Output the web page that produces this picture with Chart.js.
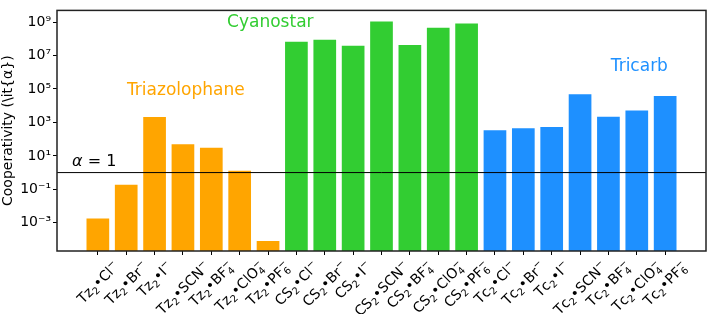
<!DOCTYPE html>
<html lang="en">
<head>
<meta charset="UTF-8">
<title>Cooperativity</title>
<script src="https://cdn.jsdelivr.net/npm/chart.js@4.4.0/dist/chart.umd.min.js"></script>
<style>
    html, body { margin: 0; padding: 0; background: #fff; }
    #wrap { width: 709px; height: 314px; }
</style>
</head>
<body>
<div id="wrap"><canvas id="coop"></canvas></div>

<script>
    // ---- data ----
    const tzLabels = ['Tz₂•Cl⁻', 'Tz₂•Br⁻', 'Tz₂•I⁻', 'Tz₂•SCN⁻', 'Tz₂•BF₄⁻', 'Tz₂•ClO₄⁻', 'Tz₂•PF₆⁻'];
    const csLabels = ['CS₂•Cl⁻', 'CS₂•Br⁻', 'CS₂•I⁻', 'CS₂•SCN⁻', 'CS₂•BF₄⁻', 'CS₂•ClO₄⁻', 'CS₂•PF₆⁻'];
    const tcLabels = ['Tc₂•Cl⁻', 'Tc₂•Br⁻', 'Tc₂•I⁻', 'Tc₂•SCN⁻', 'Tc₂•BF₄⁻', 'Tc₂•ClO₄⁻', 'Tc₂•PF₆⁻'];

    const tzValues = [1.8e-3, 0.19, 2100, 49, 31, 1.3, 8e-5];
    const csValues = [6.7e7, 8.9e7, 3.8e7, 1.1e9, 4.3e7, 4.6e8, 8.3e8];
    const tcValues = [340, 450, 530, 4.9e4, 2200, 5200, 3.8e4];

    const yTicks = [1e-3, 1e-1, 1e1, 1e3, 1e5, 1e7, 1e9];
    const yTickLabels = ['10⁻³', '10⁻¹', '10¹', '10³', '10⁵', '10⁷', '10⁹'];

    const tzColor = '#FFA500';
    const csColor = '#32CD32';
    const tcColor = '#1E90FF';

    // ---- build what chart.js needs ----
    const labels = tzLabels.concat(csLabels, tcLabels);
    const values = tzValues.concat(csValues, tcValues);
    const colors = tzValues.map(() => tzColor)
        .concat(csValues.map(() => csColor), tcValues.map(() => tcColor));
    const points = values.map((v, i) => ({ x: i, y: v }));

    const yMin = Math.pow(10, -4.69);
    const yMax = Math.pow(10, 9.7);
    const font = 'DejaVu Sans';

    // sub/superscript handling so the x labels look like mathtext
    const subMap = { '₂': '2', '₄': '4', '₆': '6' };
    const supMap = { '⁻': '−' };

    function mathLabel(ctx, text, size, draw) {
        let x = 0, subStart = null, subEnd = 0;
        for (const ch of text) {
            if (subMap[ch]) {
                ctx.font = (size * 0.7) + 'px ' + font;
                if (draw) ctx.fillText(subMap[ch], x, size * 0.22);
                subStart = x;
                x += ctx.measureText(subMap[ch]).width;
                subEnd = x;
            } else if (supMap[ch]) {
                ctx.font = (size * 0.7) + 'px ' + font;
                const sx = subStart !== null ? subStart : x;
                if (draw) ctx.fillText(supMap[ch], sx, -size * 0.42);
                x = Math.max(sx + ctx.measureText(supMap[ch]).width, subEnd);
                subStart = null;
            } else {
                ctx.font = size + 'px ' + font;
                if (draw) ctx.fillText(ch, x, 0);
                x += ctx.measureText(ch).width;
                subStart = null;
            }
        }
        return x;
    }

    // frame, alpha = 1 line, x labels and group names
    const extras = {
        id: 'extras',
        afterDatasetsDraw(chart) {
            const ctx = chart.ctx;
            const a = chart.chartArea;
            const xs = chart.scales.x, ys = chart.scales.y;
            ctx.save();

            // alpha = 1 reference line
            const y1 = ys.getPixelForValue(1);
            ctx.strokeStyle = '#000';
            ctx.lineWidth = 1;
            ctx.beginPath();
            ctx.moveTo(a.left, y1);
            ctx.lineTo(a.right, y1);
            ctx.stroke();

            ctx.fillStyle = '#000';
            ctx.textBaseline = 'alphabetic';
            ctx.textAlign = 'left';
            ctx.font = 'italic 16px ' + font;
            ctx.fillText('α', a.left + 15, y1 - 7);
            const aw = ctx.measureText('α').width;
            ctx.font = '16px ' + font;
            ctx.fillText(' = 1', a.left + 15 + aw, y1 - 7);

            // rotated x labels, centred on their tick
            const size = 14;
            labels.forEach((lab, i) => {
                const w = mathLabel(ctx, lab, size, false);
                const h = size * 1.15;
                const cx = xs.getPixelForValue(i);
                const cy = a.bottom + 7 + (w + h) * Math.SQRT1_2 / 2;
                ctx.save();
                ctx.translate(cx, cy);
                ctx.rotate(-Math.PI / 4);
                ctx.translate(-w / 2, size * 0.36);
                ctx.fillStyle = '#000';
                ctx.textAlign = 'left';
                ctx.textBaseline = 'alphabetic';
                mathLabel(ctx, lab, size, true);
                ctx.restore();
            });

            // group names
            ctx.textAlign = 'center';
            ctx.textBaseline = 'middle';
            ctx.font = '17px ' + font;
            ctx.fillStyle = tzColor;
            ctx.fillText('Triazolophane', xs.getPixelForValue(3.1), ys.getPixelForValue(Math.pow(10, 4.88)));
            ctx.fillStyle = csColor;
            ctx.fillText('Cyanostar', xs.getPixelForValue(6.08), ys.getPixelForValue(Math.pow(10, 9.0)));
            ctx.fillStyle = tcColor;
            ctx.fillText('Tricarb', xs.getPixelForValue(19.09), ys.getPixelForValue(Math.pow(10, 6.33)));

            // box round the axes
            ctx.strokeStyle = '#222';
            ctx.lineWidth = 1.5;
            ctx.strokeRect(a.left, a.top, a.right - a.left, a.bottom - a.top);
            ctx.restore();
        }
    };

    new Chart(document.getElementById('coop'), {
        type: 'bar',
        data: {
            datasets: [{
                data: points,
                backgroundColor: colors,
                borderWidth: 0,
                barPercentage: 0.8,
                categoryPercentage: 1.0,
                base: yMin
            }]
        },
        options: {
            responsive: true,
            maintainAspectRatio: false,
            animation: false,
            layout: { padding: { top: 2, right: 3, left: 0, bottom: 0 } },
            plugins: {
                legend: { display: false },
                tooltip: { enabled: false }
            },
            scales: {
                x: {
                    type: 'linear',
                    min: -1.44,
                    max: 21.44,
                    offset: false,
                    grid: { offset: false, drawOnChartArea: false, drawTicks: true, tickLength: 4, color: '#000' },
                    border: { display: false },
                    afterBuildTicks(scale) {
                        scale.ticks = labels.map((_, i) => ({ value: i }));
                    },
                    afterFit(scale) { scale.height = 63; },
                    ticks: {
                        autoSkip: false,
                        maxRotation: 0,
                        callback: () => ''
                    }
                },
                y: {
                    type: 'logarithmic',
                    min: yMin,
                    max: yMax,
                    grid: { drawOnChartArea: false, drawTicks: true, tickLength: 4, color: '#000' },
                    border: { display: false },
                    afterBuildTicks(scale) {
                        scale.ticks = yTicks.map(v => ({ value: v }));
                    },
                    afterFit(scale) { scale.width = 57; },
                    title: {
                        display: true,
                        text: 'Cooperativity (\\it{α})',
                        color: '#000',
                        font: { family: font, size: 14 },
                        padding: { top: 0, bottom: 1 }
                    },
                    ticks: {
                        padding: 2,
                        color: '#000',
                        font: { family: font, size: 14 },
                        callback: (v) => {
                            const k = yTicks.findIndex(t => Math.abs(Math.log10(t) - Math.log10(v)) < 1e-6);
                            return k >= 0 ? yTickLabels[k] : '';
                        }
                    }
                }
            }
        },
        plugins: [extras]
    });
</script>
</body>
</html>
